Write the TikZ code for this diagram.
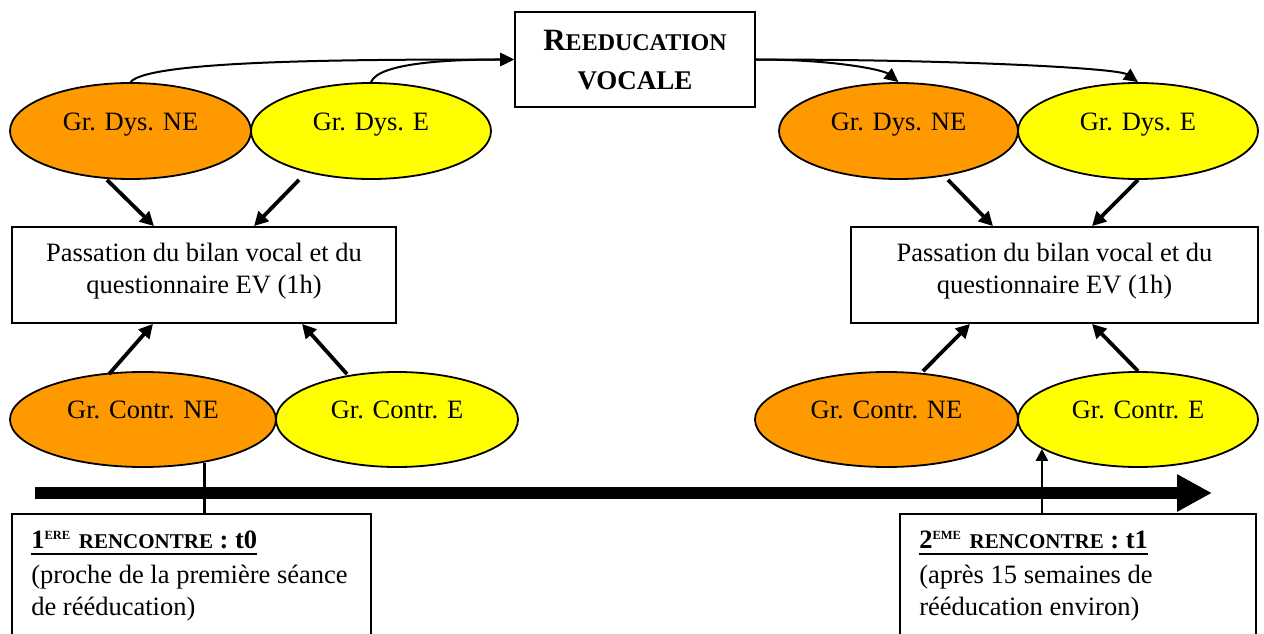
\documentclass[tikz,border=0pt]{standalone}
\usepackage{fontspec}
\setmainfont{Liberation Serif}
\usetikzlibrary{arrows.meta,shapes.geometric,calc}
\definecolor{orng}{HTML}{FF9900}
\definecolor{yell}{HTML}{FFFF00}
\newcommand\ulbox[1]{\begingroup\setbox0\hbox{#1}\rlap{\rule[-6pt]{\wd0}{2pt}}\box0\endgroup}
\begin{document}
\begin{tikzpicture}[x=1pt,y=-1pt,
  grp/.style={ellipse, draw, line width=1.8pt, inner sep=0pt, text height=10pt, text depth=11.5pt, font=\fontsize{26.5}{32}\selectfont},
  ne/.style={grp, fill=orng},
  ee/.style={grp, fill=yell},
  boxx/.style={draw, line width=1.8pt, rectangle, inner sep=0pt, fill=white},
  txt/.style={inner sep=0pt, align=center, font=\fontsize{26.5}{31.5}\selectfont},
  ltxt/.style={inner sep=0pt, align=left, font=\fontsize{26.5}{32}\selectfont},
  curv/.style={line width=2pt, -{Triangle[length=14pt,width=13pt]}},
  diag/.style={line width=3.8pt, -{Triangle[length=14pt,width=14pt]}},
  vline/.style={line width=2.5pt},
]
\useasboundingbox (0,0) rectangle (1264,634);
\clip (0,0) rectangle (1264,634);

% boxes
\node[boxx, minimum width=240pt, minimum height=95pt] (reed) at (635,59.5) {};
\node[boxx, minimum width=384pt, minimum height=96pt] (bL) at (204,275) {};
\node[boxx, minimum width=407pt, minimum height=96pt] (bR) at (1054.5,275) {};
\node[boxx, minimum width=359pt, minimum height=200pt] (t0box) at (191.5,614) {};
\node[boxx, minimum width=356pt, minimum height=200pt] (t1box) at (1078,614) {};

% texts
\node[txt, anchor=north, font=\fontsize{31}{39}\selectfont\bfseries] (reedT) at ($(reed.north)+(0,18.5)$)
  {R{\fontsize{24}{39}\selectfont EEDUCATION}\\{\fontsize{27}{39}\selectfont VOCALE}};
\node[txt, anchor=north] (bLT) at ($(bL.north)+(0,17)$) {Passation du bilan vocal et du\\questionnaire EV (1h)};
\node[txt, anchor=north] (bRT) at ($(bR.north)+(0,17)$) {Passation du bilan vocal et du\\questionnaire EV (1h)};
\node[ltxt, anchor=north west] (t0T) at ($(t0box.north west)+(20,18)$)
  {\ulbox{\bfseries 1\raisebox{9pt}{\fontsize{12.5}{12.5}\selectfont ERE}\hspace{2pt} {\fontsize{21}{21}\selectfont RENCONTRE} : t0}\\[3pt](proche de la première séance\\de rééducation)};
\node[ltxt, anchor=north west] (t1T) at ($(t1box.north west)+(20,18)$)
  {\ulbox{\bfseries 2\raisebox{9pt}{\fontsize{12.5}{12.5}\selectfont EME}\hspace{2pt} {\fontsize{21}{21}\selectfont RENCONTRE} : t1}\\[3pt](après 15 semaines de\\rééducation environ)};

% ellipses
\node[ne, minimum width=241pt, minimum height=96pt] (dNEL) at (130.5,131) {Gr. Dys. NE};
\node[ee, minimum width=240pt, minimum height=96pt] (dEL) at (371,131) {Gr. Dys. E};
\node[ne, minimum width=239pt, minimum height=96pt] (dNER) at (898.5,131) {Gr. Dys. NE};
\node[ee, minimum width=240pt, minimum height=96pt] (dER) at (1138,131) {Gr. Dys. E};
\node[ne, minimum width=266pt, minimum height=95pt] (cNEL) at (143,419.5) {Gr. Contr. NE};
\node[ee, minimum width=242pt, minimum height=95pt] (cEL) at (397,419.5) {Gr. Contr. E};
\node[ne, minimum width=263pt, minimum height=95pt] (cNER) at (886.5,419.5) {Gr. Contr. NE};
\node[ee, minimum width=240pt, minimum height=95pt] (cER) at (1138,419.5) {Gr. Contr. E};

% curved connectors to/from the top box
\draw[curv] (dNEL.north) .. controls +(18,-22) and +(-160,0) .. (reed.west);
\draw[curv] (dEL.north) .. controls +(8,-20) and +(-60,0) .. (reed.west);
\draw[curv] (reed.east) .. controls +(80,0) and +(-15,-12) .. (dNER.north);
\draw[curv] (reed.east) .. controls +(200,0) and +(-20,-14) .. (dER.north);

% diagonal arrows
\draw[diag] ($(dNEL.south)+(-23.5,0)$) -- ($(bL.north)+(-50,0)$);
\draw[diag] ($(dEL.south)+(-72,0)$) -- ($(bL.north)+(50,0)$);
\draw[diag] ($(dNER.south)+(49.5,0)$) -- ($(bR.north)+(-61.5,0)$);
\draw[diag] (dER.south) -- ($(bR.north)+(37.5,0)$);
\draw[diag] ($(cNEL.north)+(-34,3)$) -- ($(bL.south)+(-51,0)$);
\draw[diag] ($(cEL.north)+(-50,3)$) -- ($(bL.south)+(98,0)$);
\draw[diag] ($(cNER.north)+(36.5,0)$) -- ($(bR.south)+(-84.5,0)$);
\draw[diag] (cER.north) -- ($(bR.south)+(37.5,0)$);

% timeline
\coordinate (tlA) at (35,493);
\coordinate (tlB) at (1212,493);
\draw[line width=12pt, -{Triangle[length=35pt,width=35pt]}] (tlA) -- (tlB);

% vertical links
\draw[vline] (cNEL.-35.2) -- (cNEL.-35.2 |- t0box.north);
\draw[vline, -{Triangle[length=12pt,width=12pt]}] (cER.197.4 |- t1box.north) -- (cER.197.4);
\end{tikzpicture}
\end{document}
